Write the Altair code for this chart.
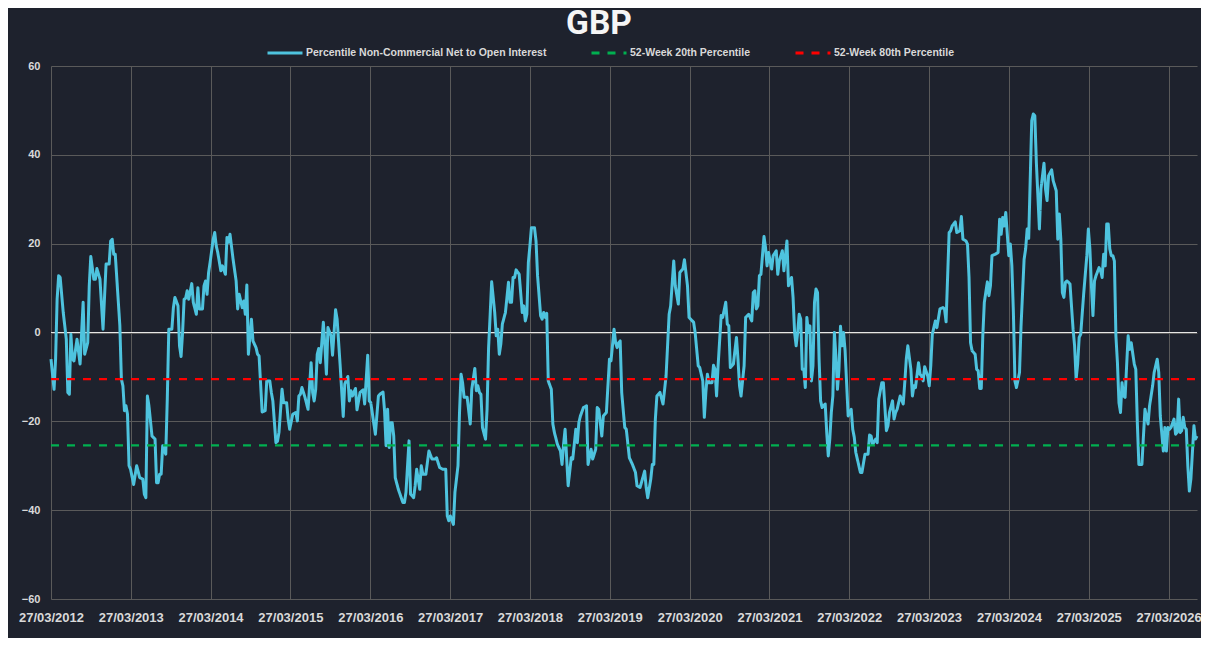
import pandas as pd
import altair as alt

# GBP COT positioning - percentile of non-commercial net to open interest

start_date = pd.Timestamp("2012-03-27")

# week number since 27/03/2012
report_week = [
    0, 2, 3, 4, 5, 6, 8, 10, 11, 12, 13, 14, 15, 17, 19, 21, 22, 24, 25, 26,
    28, 29, 30, 32, 34, 36, 38, 39, 40, 41, 42, 45, 46, 47, 48, 49, 50, 51, 52, 54,
    56, 58, 60, 61, 62, 63, 64, 66, 68, 69, 70, 71, 72, 73, 75, 76, 77, 79, 80, 81,
    83, 84, 85, 86, 87, 88, 89, 90, 92, 93, 95, 96, 97, 99, 100, 101, 102, 103, 104, 106,
    107, 108, 109, 111, 112, 114, 115, 116, 117, 119, 121, 122, 123, 125, 126, 127, 128, 129, 131, 132,
    134, 135, 136, 138, 140, 141, 143, 144, 145, 147, 148, 149, 151, 152, 154, 155, 156, 158, 160, 161,
    162, 163, 164, 166, 168, 170, 171, 172, 173, 174, 175, 176, 178, 179, 180, 181, 183, 184, 186, 187,
    189, 191, 192, 194, 195, 196, 197, 199, 200, 202, 204, 205, 207, 208, 209, 212, 214, 215, 217, 218,
    219, 220, 221, 222, 223, 224, 225, 227, 230, 231, 232, 234, 235, 237, 238, 239, 241, 242, 243, 245,
    247, 249, 251, 252, 254, 256, 258, 259, 260, 261, 263, 264, 266, 267, 268, 269, 270, 272, 274, 275,
    277, 278, 279, 280, 281, 282, 284, 285, 286, 287, 288, 290, 291, 292, 293, 294, 295, 297, 299, 300,
    301, 302, 303, 304, 306, 308, 309, 310, 311, 312, 313, 314, 316, 317, 318, 320, 321, 322, 323, 324,
    325, 327, 328, 329, 331, 333, 334, 335, 336, 338, 340, 341, 343, 344, 345, 346, 348, 350, 351, 353,
    354, 356, 357, 358, 360, 361, 363, 364, 365, 366, 368, 369, 370, 371, 372, 373, 375, 376, 378, 380,
    382, 383, 385, 388, 389, 390, 392, 393, 394, 395, 396, 398, 400, 402, 404, 405, 407, 408, 410, 411,
    413, 414, 416, 417, 420, 421, 423, 424, 426, 427, 428, 429, 430, 432, 433, 434, 435, 436, 438, 439,
    441, 442, 443, 444, 446, 448, 449, 450, 451, 453, 454, 456, 458, 459, 460, 461, 462, 463, 464, 466,
    467, 468, 469, 471, 472, 474, 475, 476, 478, 479, 481, 482, 484, 485, 486, 487, 488, 489, 490, 491,
    492, 493, 494, 495, 496, 497, 498, 499, 500, 501, 502, 503, 504, 506, 507, 508, 509, 510, 511, 512,
    513, 514, 515, 516, 517, 518, 519, 521, 522, 523, 524, 525, 526, 528, 529, 530, 532, 534, 535, 536,
    537, 539, 540, 541, 543, 544, 546, 547, 548, 550, 551, 552, 553, 555, 557, 558, 559, 560, 562, 563,
    564, 565, 567, 568, 569, 570, 571, 573, 574, 575, 576, 577, 578, 579, 581, 583, 584, 585, 586, 587,
    588, 589, 591, 592, 594, 595, 596, 598, 599, 600, 601, 602, 604, 605, 606, 607, 608, 609, 610, 612,
    613, 614, 615, 617, 619, 620, 621, 622, 623, 624, 626, 627, 628, 629, 630, 631, 633, 634, 636, 637,
    638, 639, 640, 641, 642, 643, 644, 646, 647, 649, 650, 651, 652, 654, 655, 657, 658, 659, 660, 661,
    662, 663, 664, 665, 666, 668, 669, 670, 671, 672, 673, 675, 677, 678, 679, 680, 681, 682, 683, 685,
    686, 687, 688, 689, 690, 691, 692, 693, 694, 695, 696, 697, 698, 699, 700, 701, 702, 703, 704, 705,
    706, 708, 709, 710, 711, 713, 714, 715, 717, 718, 720, 721, 723, 724, 725, 727, 728, 729, 730, 731,
    732, 734, 735, 736, 737, 738, 739, 740, 741, 742, 743, 744, 745, 746, 747, 748, 749,
]

pct_net_oi = [
    -6, -12.8, -6, 7.5, 12.8, 12.4, 4.5, -1.5, -13.5, -13.9, -0.4, -6, -6.4, -1.5, -7.1, 6.8, -4.9, -2.3, 10.5, 17.1,
    12, 12, 14.4, 12, 0.75, 15.4, 15.4, 20.6, 21, 17.6, 17.6, 1.5, -10.5, -12, -17.6, -16.5, -18.4, -30, -30.8, -34.2,
    -30, -32.7, -33, -36.4, -37.2, -14.3, -16.5, -23.3, -24, -33.8, -33.8, -31.9, -31.9, -25.5, -27.4, -15, 0.75, 0.75, 5.6, 7.9,
    6, -3, -5.4, 0, 7.5, 7.7, 9.4, 7.5, 11, 6.8, 4.1, 10.1, 5.3, 5.3, 10.5, 11.6, 8.6, 13.5, 15.8, 21,
    22.5, 19.5, 18, 13.9, 15, 13.1, 21.4, 20.3, 22.1, 16.5, 11.6, 5.3, 8.6, 5.6, 7.1, 4.1, 10.7, -4.9, 3, -1.9,
    -3.4, -4.9, -5.3, -17.9, -17.6, -10.9, -10.9, -13.5, -15.4, -24.8, -24.5, -22.5, -12.8, -15.8, -15.8, -19.5, -21.8, -18.4, -18, -19.9,
    -14.3, -13.9, -12.4, -14.6, -17.3, -6.8, -13.5, -15.4, -12.8, -4.9, -3.6, -6.8, 2.3, -3, -9.4, 1.1, -0.75, -5.1, 5.1, 3,
    -7.5, -18.9, -11.6, -9.9, -15.4, -13.1, -14.3, -12.6, -17.4, -13.5, -12.9, -16.1, -5.1, -15.4, -15.8, -22.9, -14.3, -13.9, -13.4, -17.6,
    -25.5, -17.3, -25.9, -20.3, -20.3, -23.3, -32.7, -35.3, -38.3, -38.3, -36, -24.4, -36.4, -37.2, -34.5, -30.8, -35.3, -30, -31.9, -31.9,
    -26.7, -28.5, -28.5, -28.2, -30.4, -30.8, -30.8, -41.3, -42.4, -41.3, -43.2, -36, -30, -18, -9.4, -11.3, -14.6, -14.6, -20.6, -12.8,
    -8.1, -13.1, -12, -13.5, -13.9, -21.4, -24, -17.3, -3.4, 3.8, 11.4, 4.5, -0.75, 0.75, -4.9, -2.6, 1.9, 4.5, 11.3, 6.8,
    6.8, 12.4, 12.4, 14.1, 13.1, 4.5, 6, 2.6, 4.1, 15.8, 19.5, 23.6, 23.6, 20.6, 12.8, 3.8, 3, 4.5, 3.4, 4.3,
    -10.9, -12.8, -20.6, -22.5, -25.2, -26.7, -29.7, -25.2, -21.8, -34.5, -28.2, -28.5, -21.8, -24.8, -20.3, -18.8, -16.9, -16.5, -29.7, -26.3,
    -28.5, -26.3, -16.9, -17.3, -23.3, -18.8, -18, -12, -6, -6.4, 0.75, -2.3, -3.4, -2.3, -1.9, -13.5, -21.4, -21.8, -28.2, -29.7,
    -31.5, -34.5, -34.9, -31.2, -34.9, -37.2, -33, -29.7, -29.7, -19.5, -14.3, -13.5, -16.1, -9.8, 4.1, 6, 16.1, 10.5, 6.4, 13.5,
    14.3, 16.4, 10.5, 3.4, 2.3, 0, -7.5, -7.9, -10.9, -19.1, -13.5, -9.4, -11.3, -11.3, -7.4, -8.3, -14.3, -7.5, 3.8, 3.4,
    6.8, 1.9, 1.5, -7.9, -7.1, -1.1, -6, -12, -14.3, -7.5, 3.4, 4.1, 2.6, 9, 9.4, 5.3, 6, 12.8, 13.1, 21.6,
    19.1, 15, 18, 14.3, 17.3, 18.4, 13.1, 16.1, 18.4, 13.9, 20.6, 10.5, 12.4, 7.9, 0, -3, 0, 4.1, 3, -8.3,
    -8.3, -12.4, 3.4, 0, 1.5, -10.9, -7.5, 6.8, 9.8, 9, -6, -15.4, -16.9, -16.1, -22.5, -27.8, -24, -18, -14.3, 0,
    -5.3, -12.8, -8.3, 1.4, -3, 0, -4.1, -18.8, -18, -17.3, -21.8, -23.6, -27, -30, -31.5, -31.5, -27.4, -27.4, -23.1, -23.3,
    -25.2, -24, -24.8, -15, -11.3, -11.3, -22.1, -21, -18, -15.4, -19.5, -18, -17.3, -14.3, -16.1, -11.3, -6, -3, -8.3, -14.3,
    -12, -12.4, -6.8, -9.4, -9.8, -10.9, -7.7, -9.8, -12, -7.5, -0.4, 1.1, 2.6, 1.1, 5.3, 5.6, 5.3, 2.4, 12.4, 22.5,
    22.9, 24, 24.9, 22.5, 22.9, 26.1, 21, 20.6, 19.9, 12.4, -2.3, -4.1, -4.9, -8.3, -8.6, -12.6, -12.6, -0.75, 6.8, 11.4,
    8.3, 10.5, 17.3, 17.6, 18, 25.5, 22.1, 25.9, 24, 27, 17.3, 19.9, 15, 4.5, -10.9, -12.4, -9, 1.5, 16.5, 18.8,
    23.3, 21.2, 34.5, 47.7, 49.2, 48.8, 38.3, 23.3, 32.3, 38.1, 32.3, 29.7, 35.3, 36.6, 34.2, 31.9, 21, 26.7, 21, 9,
    7.9, 11.3, 11.6, 11.3, 10.9, 0.75, -3, -10.5, -7.1, -1.1, -0.4, 9, 17.3, 23.3, 18.8, 10.5, 3.8, 11.6, 12.8, 14.6,
    13.9, 12.4, 17.6, 15, 24.4, 24.4, 18.8, 17.3, 17.3, 16.1, -0.75, -6.8, -15.8, -18, -11.3, -14.3, -14.6, -7.5, -0.75, -3.8,
    -2.3, -7.1, -8.3, -20.3, -29.7, -29.7, -23.3, -17.3, -20.6, -16.5, -12, -9, -6, -9, -18.8, -26.7, -21.4, -26.7, -21.4, -21.8,
    -21.4, -19.5, -22.9, -22.5, -15, -22.5, -22.1, -19.1, -21.4, -21.8, -30, -35.7, -33, -27, -21, -24, -23.3,
]

# 52-week percentile levels
pct_20th = -25.4
pct_80th = -10.5

series_names = [
    "Percentile Non-Commercial Net to Open Interest",
    "52-Week 20th Percentile",
    "52-Week 80th Percentile",
]
series_colors = ["#4ec3de", "#00b050", "#ff0000"]

dates = start_date + pd.to_timedelta([w * 7 for w in report_week], unit="D")
end_date = dates[-1]

main_df = pd.DataFrame({
    "date": dates,
    "value": pct_net_oi,
    "series": series_names[0],
})

levels_df = pd.DataFrame({
    "date": [start_date, end_date, start_date, end_date],
    "value": [pct_20th, pct_20th, pct_80th, pct_80th],
    "series": [series_names[1]] * 2 + [series_names[2]] * 2,
})

label_color = "#d9d9d9"
grid_color = "#5a5a5a"
font = "Liberation Sans"

year_ticks = [alt.DateTime(year=y, month=3, date=27) for y in range(2012, 2027)]

x_enc = alt.X(
    "date:T",
    title=None,
    scale=alt.Scale(domain=[start_date.strftime("%Y-%m-%d"), end_date.strftime("%Y-%m-%d")]),
    axis=alt.Axis(
        values=year_ticks,
        format="%d/%m/%Y",
        grid=True,
        gridColor=grid_color,
        domain=False,
        ticks=False,
        labelColor=label_color,
        labelFont=font,
        labelFontWeight="bold",
        labelFontSize=13,
        labelPadding=12,
        labelOverlap=False,
        labelFlush=False,
        labelAlign="center",
    ),
)

y_enc = alt.Y(
    "value:Q",
    title=None,
    scale=alt.Scale(domain=[-60, 60], nice=False),
    axis=alt.Axis(
        values=list(range(-60, 61, 20)),
        grid=True,
        gridColor=grid_color,
        domain=False,
        ticks=False,
        labelColor=label_color,
        labelFont=font,
        labelFontWeight="bold",
        labelFontSize=11,
        labelPadding=11,
    ),
)

legend = alt.Legend(
    title=None,
    orient="none",
    legendX=215,
    legendY=-32,
    direction="horizontal",
    columns=3,
    labelColor=label_color,
    labelFont=font,
    labelFontWeight="bold",
    labelFontSize=10.5,
    labelLimit=400,
    labelOffset=2,
    symbolType="stroke",
    symbolSize=1225,
    symbolStrokeWidth=3,
    columnPadding=38,
)

color_enc = alt.Color(
    "series:N",
    scale=alt.Scale(domain=series_names, range=series_colors),
    legend=legend,
)
dash_enc = alt.StrokeDash(
    "series:N",
    scale=alt.Scale(domain=series_names, range=[[1, 0], [8, 8], [8, 8]]),
    legend=legend,
)

# bright zero line
zero_line = alt.Chart(main_df).mark_rule(color="#e6e6e6", strokeWidth=1).encode(
    y=alt.datum(0)
)

net_line = alt.Chart(main_df).mark_line(strokeWidth=3, strokeJoin="round").encode(
    x=x_enc,
    y=y_enc,
    color=color_enc,
    strokeDash=dash_enc,
)

level_lines = alt.Chart(levels_df).mark_line(strokeWidth=2.2).encode(
    x=x_enc,
    y=y_enc,
    color=color_enc,
    strokeDash=dash_enc,
    detail="series:N",
)

chart = (
    alt.layer(zero_line, net_line, level_lines)
    .properties(
        width=1146,
        height=533,
        title=alt.Title(
            "GBP",
            fontSize=33.5,
            font="Roboto",
            fontWeight="bold",
            color="#f5f5f5",
            anchor="middle",
            frame="group",
            dx=-25,
            offset=-7,
        ),
        autosize=alt.AutoSizeParams(type="none"),
        padding={"left": 43, "top": 58, "right": 4, "bottom": 39},
        background="#1e222d",
    )
    .configure_view(stroke=None)
)

chart.save("out.html", embed_options={"renderer": "svg", "actions": False})
